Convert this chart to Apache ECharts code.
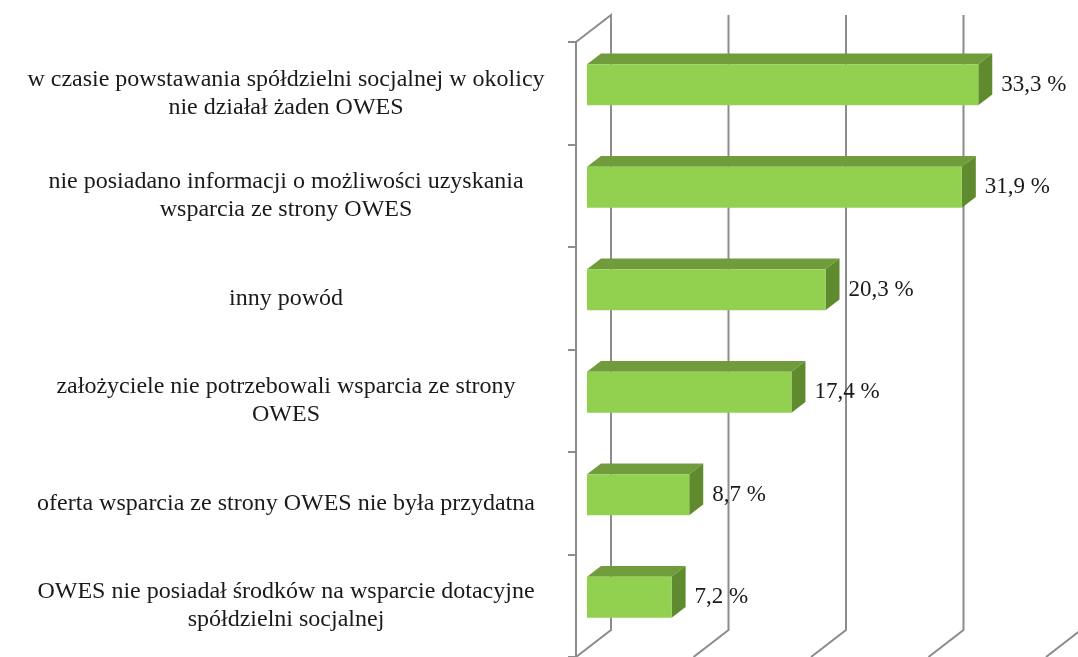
<!DOCTYPE html>
<html>
<head>
    <meta charset="utf-8">
    <title>Powody braku wsparcia OWES</title>
    <script src="https://cdn.jsdelivr.net/npm/echarts@6/dist/echarts.min.js"></script>
    <style>
        html, body { margin: 0; padding: 0; background: #fff; }
        #main { width: 1078px; height: 657px; }
    </style>
</head>
<body>
    <div id="main"></div>
    <script type="text/javascript">
        var categories = [
            'w czasie powstawania spółdzielni socjalnej w okolicy\nnie działał żaden OWES',
            'nie posiadano informacji o możliwości uzyskania\nwsparcia ze strony OWES',
            'inny powód',
            'założyciele nie potrzebowali wsparcia ze strony\nOWES',
            'oferta wsparcia ze strony OWES nie była przydatna',
            'OWES nie posiadał środków na wsparcie dotacyjne\nspółdzielni socjalnej'
        ];
        var values = [33.3, 31.9, 20.3, 17.4, 8.7, 7.2];
        var ticks = [0, 10, 20, 30, 40];

        var myChart = echarts.init(document.getElementById('main'));

        // glebokosc "3D" w pikselach
        var WALL = 35, SLOPE = 0.77;
        var BAR_FRONT = 11, BAR_DEPTH = 14;
        var GRID_COLOR = '#8c8c8c';
        var FONT = '"Liberation Serif", "DejaVu Serif", serif';

        function wallItem(params, api) {
            var cs = params.coordSys;
            var v = api.value(0);
            var x = api.coord([v, 0])[0];
            var top = cs.y, bottom = cs.y + cs.height;
            var xb = x + WALL, dy = WALL * SLOPE;
            var pts;
            if (v === 0) {
                pts = [[x, top], [xb, top - dy], [xb, bottom - dy], [x, bottom]];
            } else {
                pts = [[xb, top - dy], [xb, bottom - dy], [x, bottom]];
            }
            return {
                type: 'polyline',
                shape: { points: pts },
                style: { stroke: GRID_COLOR, lineWidth: 2, fill: null }
            };
        }

        function barItem(params, api) {
            var idx = params.dataIndex;
            var v = api.value(0);
            var s = api.coord([0, idx]);
            var e = api.coord([v, idx]);
            var band = api.size([0, 1])[1];
            var h = band * 0.4;
            var ox = BAR_FRONT, oy = -BAR_FRONT * SLOPE;
            var x1 = s[0] + ox, x2 = e[0] + ox;
            var cy = e[1] + oy;
            var y1 = cy - h / 2, y2 = cy + h / 2;
            var dx = BAR_DEPTH, dy = BAR_DEPTH * SLOPE;
            return {
                type: 'group',
                children: [
                    {
                        type: 'polygon',
                        shape: { points: [[x1, y1], [x2, y1], [x2 + dx, y1 - dy], [x1 + dx, y1 - dy]] },
                        style: { fill: '#719c3c' }
                    },
                    {
                        type: 'polygon',
                        shape: { points: [[x2, y1], [x2 + dx, y1 - dy], [x2 + dx, y2 - dy], [x2, y2]] },
                        style: { fill: '#5f8a2e' }
                    },
                    {
                        type: 'rect',
                        shape: { x: x1, y: y1, width: x2 - x1, height: h },
                        style: { fill: '#92d050' }
                    },
                    {
                        type: 'text',
                        style: {
                            x: x2 + dx + 9, y: cy,
                            text: v.toFixed(1).replace('.', ',') + ' %',
                            fill: '#1a1a1a',
                            font: '23px ' + FONT,
                            verticalAlign: 'middle'
                        }
                    }
                ]
            };
        }

        var option = {
            animation: false,
            grid: { left: 576, top: 42, width: 470, bottom: -2 },
            xAxis: {
                type: 'value',
                min: 0, max: 40, interval: 10,
                show: false
            },
            yAxis: {
                type: 'category',
                inverse: true,
                data: categories,
                axisLine: { show: true, lineStyle: { color: GRID_COLOR, width: 2 } },
                axisTick: { show: true, length: 8, lineStyle: { color: GRID_COLOR, width: 2 } },
                axisLabel: {
                    align: 'center',
                    margin: 290,
                    color: '#1a1a1a',
                    fontFamily: FONT,
                    fontSize: 24,
                    lineHeight: 28
                }
            },
            series: [
                {
                    type: 'custom',
                    renderItem: wallItem,
                    data: ticks.map(function (t) { return [t]; }),
                    silent: true,
                    z: 1
                },
                {
                    type: 'custom',
                    renderItem: barItem,
                    encode: { x: 0 },
                    data: values.map(function (v) { return [v]; }),
                    z: 2
                }
            ]
        };
        myChart.setOption(option);
    </script>
</body>
</html>
